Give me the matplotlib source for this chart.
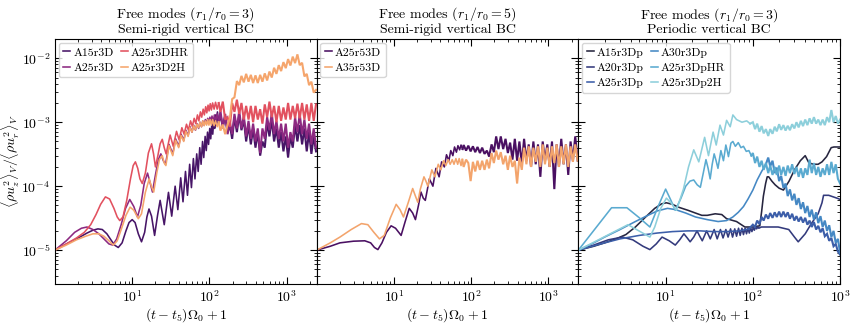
import matplotlib
matplotlib.use("Agg")
import matplotlib.pyplot as plt

plt.rcParams['font.family'] = 'serif'
plt.rcParams['font.serif'] = ['cmr10', 'DejaVu Serif']
plt.rcParams['mathtext.fontset'] = 'cm'
plt.rcParams['axes.unicode_minus'] = False
plt.rcParams['axes.formatter.use_mathtext'] = True

# ---------------- shared late-time sampling grids ----------------
grid_p1 = [139, 149, 160, 172, 184, 197, 211, 227, 243, 260, 279, 299, 321, 344, 368, 395, 423, 454,
           486, 521, 559, 599, 642, 688, 738, 791, 848, 909, 974, 1044, 1119, 1200, 1286, 1379, 1478,
           1585, 1699, 1821, 1952, 2092, 2243, 2400]
grid_p2 = [80, 86, 92, 98.5, 105.5, 113, 121, 130, 139, 149, 160, 171, 184, 197, 211, 226, 242, 260, 279,
           299, 320, 343, 368, 394, 422, 453, 485, 520, 557, 597, 640, 686, 735, 788, 845, 905, 970, 1040,
           1115, 1195, 1280, 1372, 1470, 1576, 1690, 1810, 1940, 2080, 2230, 2400]
grid_p3 = [100, 106, 112, 119, 126, 133, 141, 150, 158, 168, 178, 188, 200, 211, 224, 237, 251, 266, 282,
           299, 316, 335, 355, 376, 398, 422, 447, 473, 501, 531, 562, 596, 631, 668, 708, 750, 794, 841,
           891, 944, 1000]

# ---------------- panel 1 ----------------
a15r3D_x = [1, 1.5, 2, 2.6, 3.1, 3.6, 4.1, 4.7, 5.3, 5.9, 6.6, 7.4, 8.3, 9.1, 10, 10.9, 12, 13.2, 14.5,
            15.5, 16.5, 17.8, 19.5, 21.3, 23, 26, 29.5, 32.5, 36, 39, 42.5, 45.5, 49, 52, 55.5, 58.5, 62,
            65, 68.5, 71.5, 75, 78, 81.5, 84.5, 88, 91, 94.5, 97.5, 101, 104, 107.5, 110.5, 114, 117,
            120.5, 123.5, 127, 132]
a15r3D_y = [1e-5, 1.3e-5, 1.55e-5, 1.85e-5, 2.05e-5, 2.15e-5, 2.1e-5, 1.8e-5, 1.45e-5, 1.2e-5, 1.1e-5,
            1.3e-5, 2.0e-5, 2.7e-5, 3.0e-5, 2.7e-5, 1.8e-5, 1.35e-5, 1.9e-5, 3.3e-5, 4.4e-5, 3.4e-5,
            1.7e-5, 3.5e-5, 6.0e-5, 2.5e-5, 8e-5, 3.4e-5, 1.0e-4, 4.3e-5, 1.35e-4, 5.7e-5, 1.7e-4, 7.2e-5,
            2.2e-4, 9.5e-5, 2.7e-4, 1.3e-4, 3.2e-4, 1.7e-4, 4.0e-4, 2.2e-4, 5.0e-4, 2.8e-4, 6.0e-4,
            3.6e-4, 7.0e-4, 4.5e-4, 8.0e-4, 5.5e-4, 9.5e-4, 6.5e-4, 1.1e-3, 8e-4, 1.3e-3, 9e-4, 1.45e-3,
            1.0e-3]
a15r3D_late = [1.3e-3, 8.5e-4, 1.25e-3, 7e-4, 9e-4, 5.5e-4, 1.2e-3, 7e-4, 1.3e-3, 7.5e-4, 1.1e-3, 5e-4,
               9e-4, 4.5e-4, 8e-4, 4e-4, 7e-4, 3.0e-4, 5e-4, 4e-4, 1.0e-3, 6e-4, 1.1e-3, 5e-4, 8e-4, 4e-4,
               7e-4, 3.5e-4, 6e-4, 2.8e-4, 6e-4, 4e-4, 9e-4, 5e-4, 9e-4, 4.5e-4, 8e-4, 3.5e-4, 7e-4, 3.2e-4,
               6e-4, 3.5e-4]

a25r3D_x = [1, 1.4, 1.8, 2.2, 2.6, 3.1, 3.7, 4.3, 5.0, 5.6, 6.3, 7.2, 8.2, 9.3, 10.5, 11.7, 12.9, 14.3,
            15.8, 17, 18.3, 20, 21.8, 23.5, 25.3, 27, 30, 33.5, 36.5, 40, 43, 46.5, 49.5, 53, 56, 59.5,
            62.5, 66, 69, 72.5, 75.5, 79, 82, 85.5, 88.5, 92, 95, 98.5, 101.5, 105, 108, 112, 116, 121,
            126, 132]
a25r3D_y = [1e-5, 1.4e-5, 1.9e-5, 2.2e-5, 2.3e-5, 2.1e-5, 1.8e-5, 1.5e-5, 1.25e-5, 1.2e-5, 1.5e-5,
            2.5e-5, 4.5e-5, 6.2e-5, 4.8e-5, 3.3e-5, 5e-5, 1.1e-4, 1.6e-4, 1.15e-4, 8.1e-5, 1.5e-4, 2.6e-4,
            3.2e-4, 2.5e-4, 2.2e-4, 4.5e-4, 3.2e-4, 5.5e-4, 4.2e-4, 6.5e-4, 5.2e-4, 7.5e-4, 6.2e-4,
            8.5e-4, 7e-4, 9e-4, 7.5e-4, 9.5e-4, 8e-4, 1.0e-3, 8.5e-4, 1.05e-3, 9e-4, 1.1e-3, 9.5e-4,
            1.15e-3, 1.0e-3, 1.2e-3, 1.0e-3, 1.25e-3, 1.0e-3, 1.3e-3, 1.05e-3, 1.35e-3, 1.0e-3]
a25r3D_late = [1.5e-3, 8e-4, 1.35e-3, 6.5e-4, 1.0e-3, 6.5e-4, 1.35e-3, 8e-4, 1.5e-3, 8e-4, 1.25e-3,
               6e-4, 1.05e-3, 5.5e-4, 9.5e-4, 5e-4, 8e-4, 3.3e-4, 8e-4, 5.5e-4, 1.2e-3, 7.5e-4, 1.4e-3,
               6.5e-4, 1.05e-3, 5.5e-4, 9.5e-4, 5e-4, 9.5e-4, 4e-4, 7e-4, 5e-4, 1.2e-3, 7e-4, 1.35e-3,
               6.5e-4, 1.1e-3, 5.5e-4, 9.5e-4, 4.5e-4, 8e-4, 4e-4]

a25r3DHR_x = [1, 1.4, 1.9, 2.4, 2.9, 3.4, 3.9, 4.5, 5.1, 5.8, 6.4, 6.9, 7.6, 8.5, 9.5, 10.3, 11, 11.8,
              12.6, 13.5, 14.8, 16.2, 17.8, 18.9, 20, 21.5, 23, 24.5, 26, 27.5, 31, 34, 37.5, 40.5, 44,
              47, 50.5, 53.5, 57, 60, 63.5, 66.5, 70, 73, 76.5, 79.5, 83, 86, 89.5, 92.5, 96, 99, 102.5,
              106, 110, 115, 120, 126, 132]
a25r3DHR_y = [1e-5, 1.25e-5, 1.55e-5, 1.9e-5, 2.5e-5, 3.6e-5, 5.2e-5, 6.8e-5, 6.3e-5, 4.5e-5, 3.3e-5,
              2.9e-5, 3.3e-5, 6e-5, 1.3e-4, 2.1e-4, 2.4e-4, 1.9e-4, 1.3e-4, 1.1e-4, 1.6e-4, 3.3e-4,
              4.6e-4, 3.2e-4, 2.0e-4, 3.0e-4, 4.6e-4, 5.4e-4, 4e-4, 3.2e-4, 6.3e-4, 4.2e-4, 7.2e-4,
              5.3e-4, 8.2e-4, 6.5e-4, 9.3e-4, 7.5e-4, 1.05e-3, 8.6e-4, 1.15e-3, 9.5e-4, 1.3e-3, 1.05e-3,
              1.45e-3, 1.2e-3, 1.6e-3, 1.3e-3, 1.75e-3, 1.4e-3, 1.85e-3, 1.5e-3, 1.95e-3, 1.55e-3,
              2.0e-3, 1.6e-3, 2.05e-3, 1.6e-3, 2.0e-3]
a25r3DHR_late = [1.45e-3, 2.1e-3, 1.1e-3, 1.2e-3, 8.5e-4, 2.0e-3, 1.45e-3, 2.25e-3, 1.35e-3, 2.0e-3,
                 1.1e-3, 1.8e-3, 1.1e-3, 1.8e-3, 1.0e-3, 1.8e-3, 1.1e-3, 1.6e-3, 9.5e-4, 1.9e-3, 1.2e-3,
                 2.1e-3, 1.2e-3, 1.8e-3, 1.0e-3, 1.8e-3, 1.05e-3, 1.7e-3, 1.1e-3, 2.0e-3, 1.1e-3, 1.8e-3,
                 1.15e-3, 1.95e-3, 1.15e-3, 2.0e-3, 1.1e-3, 1.9e-3, 1.05e-3, 2.0e-3, 1.05e-3, 1.9e-3]

a25r3D2H_x = [1, 1.4, 1.9, 2.5, 3.1, 3.7, 4.3, 5.0, 5.7, 6.4, 7.3, 8.3, 9.4, 10.5, 12, 13.2, 14.8, 16.6,
              17.7, 19, 20.8, 22.5, 24.5, 26, 27.3, 30, 33.5, 36.5, 40, 43, 46.5, 49.5, 53, 56, 59.5, 62.5,
              66, 69, 72.5, 75.5, 79, 82, 85.5, 88.5, 92, 95, 98.5, 102, 106, 110, 115, 120, 126, 132]
a25r3D2H_y = [1e-5, 1.2e-5, 1.45e-5, 1.65e-5, 1.8e-5, 1.8e-5, 1.65e-5, 1.4e-5, 1.2e-5, 1.4e-5, 2.2e-5,
              3.5e-5, 4.7e-5, 4.2e-5, 3.1e-5, 3.7e-5, 8e-5, 1.3e-4, 1.0e-4, 8.1e-5, 1.6e-4, 2.6e-4,
              3.0e-4, 2.3e-4, 2.1e-4, 4.3e-4, 3.0e-4, 5.2e-4, 4.0e-4, 6.2e-4, 5.0e-4, 7.2e-4, 6.0e-4,
              8.2e-4, 7e-4, 8.8e-4, 7.6e-4, 9.3e-4, 8.2e-4, 1.0e-3, 8.5e-4, 1.05e-3, 8.8e-4, 1.05e-3,
              9e-4, 1.1e-3, 9e-4, 1.1e-3, 9e-4, 1.1e-3, 8.8e-4, 1.05e-3, 8.5e-4, 1.0e-3]
a25r3D2H_late = [7.4e-4, 9.2e-4, 6.5e-4, 9.2e-4, 1.15e-3, 2.3e-3, 2.45e-3, 4.4e-3, 3.8e-3, 5.3e-3,
                 4.2e-3, 5.7e-3, 4.3e-3, 5.5e-3, 4.1e-3, 5.4e-3, 4.1e-3, 5.5e-3, 4.3e-3, 5.8e-3, 4.5e-3,
                 6.2e-3, 5.0e-3, 7.1e-3, 5.7e-3, 7.8e-3, 6.3e-3, 8.7e-3, 7.0e-3, 9.7e-3, 7.7e-3, 1.06e-2,
                 8.4e-3, 1.15e-2, 7.8e-3, 8.5e-3, 5.2e-3, 5.7e-3, 3.8e-3, 4.3e-3, 2.9e-3, 3.2e-3]

# ---------------- panel 2 ----------------
a25r53D_x = [1, 1.5, 2, 3, 4.2, 5.0, 5.6, 6.2, 7, 8, 9.2, 10.5, 12.4, 14, 15.8, 17.5, 19, 20.8, 22.4,
             24, 25.5, 28.8, 32, 35, 38.5, 41.5, 45, 48, 51.5, 54.5, 58, 61, 64.5, 67.5, 71, 74, 77.5]
a25r53D_y = [1e-5, 1.15e-5, 1.3e-5, 1.38e-5, 1.4e-5, 1.3e-5, 1.1e-5, 1.02e-5, 1.3e-5, 1.9e-5, 2.4e-5,
             2.2e-5, 1.7e-5, 2.8e-5, 4.5e-5, 3.8e-5, 3e-5, 5e-5, 8.1e-5, 6.5e-5, 6e-5, 1.3e-4, 1.0e-4,
             1.9e-4, 1.4e-4, 2.4e-4, 2.0e-4, 3.1e-4, 2.5e-4, 3.6e-4, 3.0e-4, 4.1e-4, 3.4e-4, 4.3e-4,
             3.7e-4, 4.4e-4, 3.8e-4]
a25r53D_late = [4.4e-4, 3.6e-4, 4.3e-4, 3.5e-4, 4.2e-4, 3.4e-4, 4.1e-4, 3.3e-4, 4.0e-4, 3.2e-4, 3.6e-4,
                2.9e-4, 4.5e-4, 3.4e-4, 6.0e-4, 3.8e-4, 6.0e-4, 3.8e-4, 5.5e-4, 3.3e-4, 4.8e-4, 2.6e-4,
                5.5e-4, 2.5e-4, 5.0e-4, 2.2e-4, 5.5e-4, 2.5e-4, 4.5e-4, 2.0e-4, 5.0e-4, 2.2e-4, 4.5e-4,
                1.4e-4, 5.0e-4, 2.5e-4, 4.5e-4, 2.0e-4, 5.0e-4, 9e-5, 4.5e-4, 2.0e-4, 5.5e-4, 2.2e-4,
                4.5e-4, 1.5e-4, 5.0e-4, 2.5e-4, 6.0e-4, 2.5e-4]

a35r53D_x = [1, 1.5, 2, 2.8, 3.8, 4.6, 5.5, 6.5, 7.5, 9, 10.7, 12, 13.3, 15.3, 17.5, 19, 20.4, 22, 24.5,
             26, 27.5, 31, 34, 37.5, 40.5, 44, 47, 50.5, 53.5, 57, 60, 63.5, 67, 70, 74, 77]
a35r53D_y = [1e-5, 1.3e-5, 1.6e-5, 2.1e-5, 2.6e-5, 2.5e-5, 1.9e-5, 1.5e-5, 1.7e-5, 3.2e-5, 5.2e-5,
             4.3e-5, 3.3e-5, 5.5e-5, 9.2e-5, 7e-5, 5.6e-5, 9e-5, 1.4e-4, 1.2e-4, 1.0e-4, 1.8e-4, 1.4e-4,
             2.2e-4, 1.8e-4, 2.5e-4, 2.1e-4, 2.6e-4, 2.2e-4, 2.6e-4, 2.2e-4, 2.7e-4, 2.2e-4, 2.7e-4,
             2.1e-4, 2.6e-4]
a35r53D_late = [2.0e-4, 2.6e-4, 2.3e-4, 1.2e-4, 2.4e-4, 1.7e-4, 2.5e-4, 1.8e-4, 2.5e-4, 1.8e-4, 2.6e-4,
                1.9e-4, 3.3e-4, 2.3e-4, 3.6e-4, 2.6e-4, 3.4e-4, 2.2e-4, 3.0e-4, 1.8e-4, 3.0e-4, 2.0e-4,
                2.5e-4, 1.1e-4, 2.8e-4, 1.8e-4, 4.0e-4, 2.2e-4, 4.2e-4, 2.0e-4, 4.0e-4, 2.4e-4, 4.2e-4,
                2.0e-4, 4.5e-4, 2.2e-4, 4.0e-4, 2.0e-4, 4.2e-4, 2.3e-4, 4.5e-4, 2.0e-4, 4.2e-4, 2.2e-4,
                4.5e-4, 2.0e-4, 4.2e-4, 2.4e-4, 4.5e-4, 2.5e-4]

# ---------------- panel 3 ----------------
a15r3Dp_x = [1, 1.5, 2, 2.7, 3.5, 4.5, 5.9, 7.5, 9, 10.2, 12, 14, 18, 22, 26, 30, 37, 44, 50, 65, 81,
             100, 120, 126, 132, 140, 146, 152, 165, 180, 200, 224, 260, 300, 350, 398, 440, 500, 560,
             620, 700, 790, 850, 1000]
a15r3Dp_y = [1e-5, 1.15e-5, 1.3e-5, 1.5e-5, 1.75e-5, 2.3e-5, 3.3e-5, 4.5e-5, 5.3e-5, 5.5e-5, 5.2e-5,
             4.7e-5, 4.2e-5, 3.8e-5, 3.5e-5, 3.5e-5, 3.7e-5, 3.6e-5, 3.1e-5, 2.8e-5, 2.3e-5, 2.3e-5,
             2.4e-5, 4e-5, 7e-5, 1.1e-4, 1.4e-4, 1.4e-4, 1.2e-4, 1.05e-4, 9.3e-5, 8.7e-5, 1.2e-4, 1.8e-4,
             2.5e-4, 3e-4, 2.3e-4, 2.2e-4, 2.2e-4, 2.4e-4, 2.9e-4, 4e-4, 4.1e-4, 4.1e-4]

a20r3Dp_x = [1, 1.5, 2.2, 3.2, 4.2, 5.5, 6.6, 7.8, 9.1, 11, 12.9, 14.5, 16.2, 17.7, 19.1, 21, 22.9, 24.6,
             26.3, 29.5, 32.5, 36, 39, 42.5, 45.5, 49, 52, 55.5, 58.5, 62, 65, 68.5, 71.5, 75, 78, 81.5,
             84.5, 88, 91, 94.5, 97.5, 101, 104, 107.5, 110.5, 114, 117, 125, 145, 195, 258, 300, 331,
             398, 468, 560, 620, 646, 740, 950, 1000]
a20r3Dp_y = [1e-5, 1.2e-5, 1.45e-5, 1.6e-5, 1.45e-5, 1.15e-5, 1.02e-5, 1.25e-5, 1.6e-5, 1.4e-5, 1.2e-5,
             1.45e-5, 1.8e-5, 1.55e-5, 1.35e-5, 1.6e-5, 2e-5, 1.65e-5, 1.4e-5, 2e-5, 1.5e-5, 2.1e-5,
             1.5e-5, 2.1e-5, 1.55e-5, 2.1e-5, 1.6e-5, 2.15e-5, 1.6e-5, 2.15e-5, 1.65e-5, 2.2e-5, 1.7e-5,
             2.2e-5, 1.75e-5, 2.2e-5, 1.8e-5, 2.2e-5, 1.85e-5, 2.25e-5, 1.95e-5, 2.25e-5, 2.05e-5,
             2.3e-5, 2.15e-5, 2.3e-5, 2.2e-5, 2.3e-5, 2.3e-5, 2.3e-5, 2.1e-5, 1.6e-5, 1.35e-5, 1.8e-5,
             2.6e-5, 3.7e-5, 5.5e-5, 7.2e-5, 7.2e-5, 6.4e-5, 6.2e-5]

a25r3Dp_x = [1, 2, 3, 5, 8, 12, 18, 25, 35, 50, 70, 90]
a25r3Dp_y = [1e-5, 1.3e-5, 1.5e-5, 1.7e-5, 1.85e-5, 1.95e-5, 2e-5, 2e-5, 1.95e-5, 1.95e-5, 2e-5, 2.15e-5]
a25r3Dp_late = [2.5e-5, 2.3e-5, 2.9e-5, 2.55e-5, 3.3e-5, 2.9e-5, 3.6e-5, 3.1e-5, 3.8e-5, 3.2e-5, 3.9e-5,
                3.3e-5, 4.0e-5, 3.3e-5, 4.0e-5, 3.3e-5, 3.9e-5, 3.1e-5, 3.7e-5, 2.9e-5, 3.4e-5, 2.8e-5,
                3.3e-5, 2.7e-5, 3.2e-5, 2.5e-5, 2.9e-5, 2.3e-5, 2.75e-5, 2.1e-5, 2.4e-5, 1.9e-5, 2.2e-5,
                1.65e-5, 1.8e-5, 1.4e-5, 1.55e-5, 1.15e-5, 1.25e-5, 9.5e-6, 8.5e-6]

a30r3Dp_x = [1, 1.5, 2, 3, 4.5, 6, 8, 10.5, 13, 17, 22, 30, 40, 50, 59, 68, 78, 88, 100, 112, 126, 141]
a30r3Dp_y = [1e-5, 1.3e-5, 1.6e-5, 2.1e-5, 2.8e-5, 3.4e-5, 4.1e-5, 4.5e-5, 4.3e-5, 3.8e-5, 3.3e-5, 3.0e-5,
             2.8e-5, 2.9e-5, 3.3e-5, 3.9e-5, 4.8e-5, 6.3e-5, 8.7e-5, 1.25e-4, 1.7e-4, 2.2e-4]
a30r3Dp_late = [2.8e-4, 2.05e-4, 2.5e-4, 1.6e-4, 1.95e-4, 1.2e-4, 1.45e-4, 9.4e-5, 1.1e-4, 7.0e-5, 8.9e-5,
                6.0e-5, 7.6e-5, 5.1e-5, 6.5e-5, 4.4e-5, 5.6e-5, 3.8e-5, 4.9e-5, 3.3e-5, 4.3e-5, 3.0e-5,
                3.9e-5, 2.65e-5, 3.4e-5, 2.3e-5, 2.9e-5, 2.0e-5, 2.45e-5, 1.6e-5, 2.0e-5, 1.3e-5, 1.5e-5,
                9e-6]

a25r3DpHR_x = [1, 2.4, 3.6, 5, 6.6, 8.3, 10, 11.5, 12.9, 15, 17, 19, 21, 23, 25, 27, 29, 30.7, 32.4,
               34.2, 36, 37.9, 39.8, 41.5, 43, 44.5, 46, 47.5, 49, 50.8, 52.5, 56, 59, 63, 68, 73, 78, 84,
               90, 96]
a25r3DpHR_y = [1e-5, 4.6e-5, 4.6e-5, 3.2e-5, 2.3e-5, 5e-5, 9e-5, 6e-5, 4.2e-5, 6.5e-5, 1.0e-4, 1.2e-4,
               1.25e-4, 1.05e-4, 9.6e-5, 1.6e-4, 2.6e-4, 1.9e-4, 1.3e-4, 2.2e-4, 3.2e-4, 2.5e-4, 1.9e-4,
               2.7e-4, 3.6e-4, 3.0e-4, 2.5e-4, 3.3e-4, 4.4e-4, 3.6e-4, 2.9e-4, 4.7e-4, 5.0e-4, 4.2e-4,
               4.8e-4, 4.0e-4, 4.2e-4, 3.5e-4, 3.6e-4, 3.0e-4]
a25r3DpHR_late = [3.3e-4, 2.3e-4, 2.9e-4, 2.0e-4, 2.5e-4, 1.8e-4, 2.3e-4, 1.6e-4, 2.1e-4, 1.5e-4, 2.0e-4,
                  1.5e-4, 2.1e-4, 1.5e-4, 2.0e-4, 1.45e-4, 2.1e-4, 1.6e-4, 2.2e-4, 1.55e-4, 2.0e-4,
                  1.4e-4, 1.9e-4, 1.35e-4, 1.9e-4, 1.5e-4, 2.6e-4, 1.6e-4, 2.3e-4, 1.5e-4, 2.0e-4, 1.4e-4,
                  1.9e-4, 1.5e-4, 2.2e-4, 1.5e-4, 2.4e-4, 1.6e-4, 2.2e-4, 1.3e-4, 1.1e-4]

a25r3Dp2H_x = [1, 3.7, 6.6, 7.5, 8.8, 10.2, 11.5, 13.3, 16, 18.3, 21, 24, 28, 31, 35, 38, 42, 46, 50, 55,
               59, 65, 75, 85, 93]
a25r3Dp2H_y = [1e-5, 2.5e-5, 1.6e-5, 2.3e-5, 4.5e-5, 6.5e-5, 5.5e-5, 4.2e-5, 9e-5, 2e-4, 3.7e-4, 2.4e-4,
               5.8e-4, 3e-4, 7e-4, 4.4e-4, 9e-4, 6.3e-4, 1.07e-3, 8.5e-4, 1.3e-3, 1.1e-3, 1.0e-3, 1.05e-3,
               9.5e-4]
a25r3Dp2H_late = [1.0e-3, 7.8e-4, 9.5e-4, 7.1e-4, 8.7e-4, 6.7e-4, 7.8e-4, 6.1e-4, 7.8e-4, 6.6e-4,
                  8.5e-4, 7.2e-4, 9.3e-4, 7.6e-4, 9.0e-4, 7.4e-4, 8.8e-4, 7.5e-4, 9.3e-4, 8.0e-4, 1.0e-3,
                  8.3e-4, 1.05e-3, 8.7e-4, 1.1e-3, 9.0e-4, 1.15e-3, 9.5e-4, 1.2e-3, 9.5e-4, 1.1e-3,
                  9.0e-4, 1.1e-3, 9.0e-4, 1.2e-3, 1.0e-3, 1.55e-3, 1.0e-3, 1.25e-3, 9.5e-4, 1.1e-3]

panels = [
    dict(title=r"Free modes $(r_1/r_0 = 3)$" + "\nSemi-rigid vertical BC", xmax=2450, ncol=2,
         series=[("A15r3D", a15r3D_x, a15r3D_y, grid_p1, a15r3D_late, "#471567"),
                 ("A25r3D", a25r3D_x, a25r3D_y, grid_p1, a25r3D_late, "#8c2981"),
                 ("A25r3DHR", a25r3DHR_x, a25r3DHR_y, grid_p1, a25r3DHR_late, "#e2515f"),
                 ("A25r3D2H", a25r3D2H_x, a25r3D2H_y, grid_p1, a25r3D2H_late, "#f5a56c")]),
    dict(title=r"Free modes $(r_1/r_0 = 5)$" + "\nSemi-rigid vertical BC", xmax=2450, ncol=1,
         series=[("A25r53D", a25r53D_x, a25r53D_y, grid_p2, a25r53D_late, "#4a1062"),
                 ("A35r53D", a35r53D_x, a35r53D_y, grid_p2, a35r53D_late, "#f3a46c")]),
    dict(title=r"Free modes $(r_1/r_0 = 3)$" + "\nPeriodic vertical BC", xmax=1000, ncol=2,
         series=[("A15r3Dp", a15r3Dp_x, a15r3Dp_y, [], [], "#26253f"),
                 ("A20r3Dp", a20r3Dp_x, a20r3Dp_y, [], [], "#333a7c"),
                 ("A25r3Dp", a25r3Dp_x, a25r3Dp_y, grid_p3, a25r3Dp_late, "#3c5ea9"),
                 ("A30r3Dp", a30r3Dp_x, a30r3Dp_y, grid_p3[7:], a30r3Dp_late, "#4588c4"),
                 ("A25r3DpHR", a25r3DpHR_x, a25r3DpHR_y, grid_p3, a25r3DpHR_late, "#5aaad0"),
                 ("A25r3Dp2H", a25r3Dp2H_x, a25r3Dp2H_y, grid_p3, a25r3Dp2H_late, "#8dcfdb")]),
]

fig, axes = plt.subplots(1, 3, figsize=(8.59, 3.25), dpi=100, sharey=True)
fig.subplots_adjust(left=0.064, right=0.978, bottom=0.126, top=0.88, wspace=0)

for ax, p in zip(axes, panels):
    for label, x0, y0, xg, yg, col in p["series"]:
        ax.plot(x0, y0, color=col, lw=1.15, label=label)
        if len(xg):
            # late, rapidly fluctuating part of the same run, drawn slightly heavier
            ax.plot([x0[-1]] + list(xg), [y0[-1]] + list(yg), color=col, lw=1.5,
                    solid_joinstyle="miter")
    ax.set_xscale("log")
    ax.set_yscale("log")
    ax.set_xlim(1, p["xmax"])
    ax.set_ylim(2.95e-6, 2.0e-2)
    ax.set_xticks([10, 100, 1000])
    ax.tick_params(which="both", direction="in", top=True, right=True, labelsize=10)
    ax.tick_params(which="major", length=5, width=0.8)
    ax.tick_params(which="minor", length=2.5, width=0.6)
    ax.set_title(p["title"], fontsize=10, linespacing=1.05, pad=4)
    ax.set_xlabel(r"$(t - t_5)\Omega_0 + 1$", fontsize=10, labelpad=1)
    ax.legend(loc="upper left", ncol=p["ncol"], fontsize=8.5, handlelength=0.6, handletextpad=0.25,
              columnspacing=0.6, borderpad=0.4, labelspacing=0.42, borderaxespad=0.3)

axes[0].set_ylabel(r"$\langle \rho u_z^2 \rangle_V / \langle \rho u_r^2 \rangle_V$", fontsize=10)
axes[0].yaxis.set_label_coords(-0.125, 0.5)

fig.savefig("out.png", dpi=100)
